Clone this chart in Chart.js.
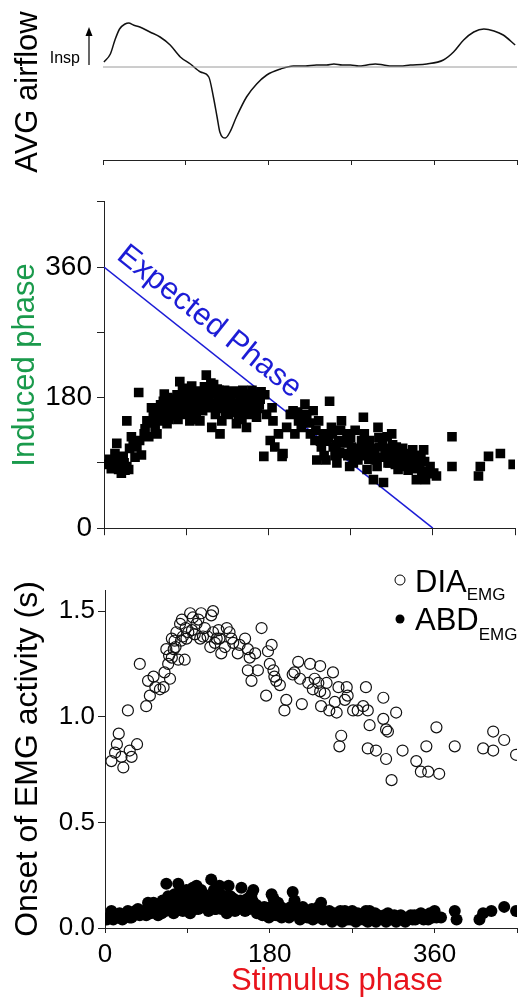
<!DOCTYPE html>
<html>
<head>
<meta charset="utf-8">
<title>Phase resetting</title>
<script src="https://cdn.jsdelivr.net/npm/chart.js@4.4.1/dist/chart.umd.min.js"></script>
<style>
  body { margin: 0; background: #fff; }
  canvas { position: absolute; left: 0; }
</style>
</head>
<body>
<canvas id="fluxo" width="528" height="180" style="top:0"></canvas>
<canvas id="fase" width="528" height="370" style="top:180px"></canvas>
<canvas id="emg" width="528" height="455" style="top:550px"></canvas>
<script>
// ========== DADOS ==========
// Fluxo aéreo médio (unidades arbitrárias) ao longo do ciclo
const fluxoX = [1, 8, 13, 18, 24, 28, 33, 40, 51, 62, 73, 84, 95, 106, 115, 120, 124, 127, 133, 138,
  145, 156, 167, 178, 193, 207, 220, 232, 243, 251, 260, 269, 278, 287, 296, 305, 314, 323, 334, 352,
  370, 381, 392, 403, 414, 425, 435, 448];
const fluxoY = [5, 13, 27, 38, 43, 44, 42, 40, 35, 30, 22, 10, 3, -5, -10, -30, -50, -65, -71, -65,
  -50, -30, -17, -8, -2, 1, 1, 2, 2, 3, 2, 2, 1, 2, 3, 2, 1, 1, 2, 3,
  7, 15, 27, 35, 38, 36, 32, 22];

// Fase do estímulo x fase induzida
const faseEstimulo = [5, 10, 14, 16, 19, 21, 25, 27, 12, 17,
  25, 30, 32, 36, 38, 41, 39, 45, 47, 49,
  52, 54, 56, 58, 60, 61, 65, 67, 69, 70,
  72, 76, 78, 80, 83, 85, 87, 91, 92, 94,
  96, 98, 101, 103, 105, 107, 112, 114, 116, 118,
  120, 122, 125, 127, 129, 131, 134, 136, 138, 142,
  145, 147, 149, 153, 156, 158, 160, 164, 167, 169,
  175, 176, 178, 182, 184, 185, 187, 191, 195, 196,
  200, 204, 207, 209, 213, 216, 220, 222, 226, 229,
  231, 233, 235, 238, 240, 243, 247, 249, 251, 255,
  257, 260, 262, 266, 269, 271, 275, 278, 282, 284,
  286, 288, 291, 295, 297, 300, 302, 306, 310, 311,
  315, 317, 320, 322, 326, 330, 331, 335, 338, 342,
  346, 350, 352, 357, 361, 364, 381, 381, 410, 412,
  421, 434, 448,
  62, 64, 68, 74, 79, 82, 86, 88, 93, 97,
  100, 102, 108, 110, 113, 117, 119, 121, 124, 128,
  132, 135, 139, 143, 146, 150, 152, 155, 162, 165,
  170, 172, 212, 218, 225, 232, 244, 253, 259, 268,
  274, 280, 290, 293, 299, 304, 308, 313, 318, 324,
  328, 333, 337, 340, 344, 348, 22, 6, 14, 28, 34,
  44, 50, 55, 59, 63, 66, 71, 73, 77, 81,
  84, 89, 90, 95, 99, 104, 106, 109, 111, 115,
  123, 126, 130, 133, 137, 140, 144, 148, 151, 154,
  157, 161, 163, 166, 168, 171, 8, 18, 23,
  237, 241, 246, 250, 254, 258, 263, 267, 270, 273,
  277, 281, 285, 289, 292, 296, 301, 305, 309, 314,
  316, 319, 323, 327, 332, 336, 339, 343, 347, 351, 355];
const faseInduzida = [88, 90, 117, 81, 76, 99, 85, 81, 103, 94,
  148, 126, 117, 112, 187, 101, 121, 137, 148, 126,
  166, 157, 139, 130, 162, 148, 175, 157, 144, 180,
  162, 171, 157, 184, 202, 180, 157, 193, 166, 148,
  196, 175, 157, 189, 148, 175, 211, 189, 166, 139,
  198, 157, 180, 130, 148, 166, 184, 157, 175, 189,
  144, 157, 180, 162, 139, 157, 184, 171, 153, 180,
  99, 184, 157, 121, 166, 148, 112, 130, 99, 103,
  139, 157, 162, 130, 148, 139, 171, 157, 130, 162,
  121, 94, 148, 112, 130, 94, 175, 139, 112, 90,
  121, 148, 103, 130, 85, 112, 135, 94, 121, 153,
  103, 81, 121, 67, 94, 139, 112, 63, 126, 90,
  130, 103, 112, 81, 99, 103, 85, 94, 108, 67,
  90, 108, 67, 85, 76, 72, 126, 85, 72, 85,
  99, 103, 88,
  170, 152, 168, 155, 175, 165, 190, 172, 182, 160,
  185, 170, 162, 195, 178, 200, 185, 172, 192, 178,
  190, 168, 180, 172, 185, 168, 190, 175, 190, 180,
  170, 188, 160, 150, 145, 135, 120, 100, 135, 118,
  100, 108, 95, 110, 85, 98, 100, 90, 95, 88,
  92, 80, 96, 82, 100, 78, 90, 95, 85, 110, 98,
  130, 145, 150, 165, 160, 185, 150, 178, 165, 150,
  172, 165, 180, 170, 150, 178, 165, 185, 170, 180,
  165, 190, 175, 160, 185, 165, 160, 170, 150, 185,
  175, 170, 160, 185, 165, 178, 82, 88, 80,
  120, 100, 125, 130, 115, 105, 118, 100, 125, 90,
  110, 100, 130, 115, 95, 105, 125, 115, 110, 100,
  115, 88, 105, 110, 100, 88, 95, 85, 100, 92, 75];

// Fase esperada (reta de 360 a 0)
const esperadaX = [0, 360];
const esperadaY = [360, 0];

// Início da atividade EMG (s) - diafragma
const diaX = [7, 11, 13, 15, 18, 20, 25, 27, 29, 35,
  38, 45, 47, 49, 53, 55, 60, 64, 65, 67,
  69, 71, 73, 73, 75, 76, 78, 80, 82, 84,
  85, 87, 89, 93, 95, 96, 100, 104, 105, 107,
  109, 115, 116, 118, 118, 122, 125, 127, 131, 133,
  136, 138, 147, 153, 156, 158, 156, 160, 164, 167,
  171, 176, 178, 180, 182, 184, 185, 187, 191, 196,
  198, 205, 207, 211, 213, 215, 222, 224, 227, 229,
  233, 235, 235, 236, 240, 242, 245, 249, 251, 253,
  255, 256, 258, 262, 264, 265, 271, 276, 282, 285,
  287, 289, 287, 296, 304, 304, 307, 309, 307, 313,
  318, 325, 340, 345, 353, 351, 362, 365, 382, 413,
  424, 424, 436, 449,
  70, 77, 83, 88, 91, 98, 102, 112, 120, 124, 140, 145];
const diaY = [0.79, 0.83, 0.87, 0.92, 0.81, 0.76, 1.03, 0.84, 0.81, 0.87,
  1.25, 1.05, 1.17, 1.10, 1.19, 1.14, 1.13, 1.14, 1.21, 1.32,
  1.25, 1.18, 1.28, 1.37, 1.32, 1.36, 1.40, 1.27, 1.44, 1.46,
  1.38, 1.27, 1.37, 1.49, 1.41, 1.47, 1.44, 1.37, 1.49, 1.38,
  1.42, 1.33, 1.48, 1.50, 1.40, 1.37, 1.37, 1.30, 1.33, 1.42,
  1.40, 1.37, 1.34, 1.37, 1.32, 1.28, 1.22, 1.17, 1.30, 1.22,
  1.42, 1.10, 1.31, 1.25, 1.34, 1.22, 1.19, 1.17, 1.15, 1.03,
  1.08, 1.20, 1.21, 1.26, 1.18, 1.06, 1.16, 1.25, 1.13, 1.18,
  1.16, 1.24, 1.12, 1.05, 1.11, 1.16, 1.03, 1.21, 1.07, 1.02,
  1.14, 0.86, 0.91, 1.08, 1.14, 1.10, 1.03, 1.03, 1.05, 1.14,
  1.03, 0.96, 0.85, 0.84, 0.99, 1.09, 0.94, 0.93, 0.80, 0.70,
  1.02, 0.84, 0.79, 0.74, 0.74, 0.86, 0.95, 0.73, 0.86, 0.85,
  0.84, 0.93, 0.89, 0.82,
  1.29, 1.33, 1.36, 1.42, 1.40, 1.39, 1.46, 1.38, 1.35, 1.41, 1.35, 1.30];

// Início da atividade EMG (s) - abdominal
const abdX = [4, 7, 11, 16, 22, 25, 29, 33, 36, 42,
  45, 47, 53, 56, 60, 64, 67, 69, 71, 73,
  76, 78, 80, 82, 84, 85, 89, 91, 95, 96,
  100, 102, 105, 107, 109, 113, 116, 118, 122, 125,
  127, 131, 135, 136, 140, 142, 149, 151, 156, 160,
  162, 165, 171, 176, 182, 184, 185, 189, 193, 198,
  204, 205, 207, 211, 215, 218, 224, 229, 233, 236,
  240, 245, 251, 255, 256, 262, 265, 271, 276, 282,
  285, 289, 293, 298, 304, 309, 315, 320, 325, 331,
  336, 342, 345, 351, 355, 360, 362, 367, 382, 384,
  409, 413, 422, 436, 449,
  2, 9, 14, 19, 27, 31, 38, 50, 58, 62,
  66, 75, 87, 93, 98, 104, 111, 120, 129, 133,
  138, 145, 153, 158, 167, 174, 179, 187, 196, 201,
  209, 213, 221, 227, 238, 243, 248, 253, 259, 268,
  274, 279, 287, 291, 296, 302, 307, 312, 318, 323,
  328, 334, 339, 348, 353, 358,
  54, 57, 63, 68, 72, 74, 79, 81, 83, 86,
  88, 90, 94, 97, 99, 103, 106, 108, 110, 112,
  115, 117, 119, 121, 124, 126, 128, 130, 134, 137,
  139, 143, 146, 148, 150, 154, 157, 161, 163, 166,
  168, 172, 175, 178, 181, 183, 190, 192, 195, 200,
  203, 208, 212, 216, 220, 226, 231, 234, 239, 247,
  250, 257, 261, 267, 270, 273, 278, 283, 288, 295,
  300, 305, 311, 316, 321, 327, 333, 338, 344, 350, 356, 361];
const abdY = [0.05, 0.08, 0.06, 0.07, 0.06, 0.08, 0.05, 0.08, 0.09, 0.08,
  0.06, 0.12, 0.12, 0.09, 0.08, 0.10, 0.21, 0.15, 0.12, 0.08,
  0.16, 0.13, 0.21, 0.10, 0.15, 0.08, 0.18, 0.12, 0.16, 0.19,
  0.20, 0.09, 0.18, 0.12, 0.14, 0.08, 0.23, 0.15, 0.12, 0.20,
  0.09, 0.15, 0.20, 0.12, 0.14, 0.08, 0.19, 0.12, 0.14, 0.16,
  0.18, 0.11, 0.08, 0.07, 0.16, 0.14, 0.08, 0.12, 0.05, 0.08,
  0.06, 0.17, 0.13, 0.07, 0.05, 0.08, 0.06, 0.08, 0.10, 0.12,
  0.06, 0.08, 0.07, 0.04, 0.06, 0.08, 0.04, 0.05, 0.07, 0.04,
  0.08, 0.08, 0.04, 0.06, 0.04, 0.07, 0.04, 0.05, 0.04, 0.04,
  0.04, 0.06, 0.07, 0.05, 0.07, 0.08, 0.05, 0.05, 0.08, 0.04,
  0.04, 0.07, 0.08, 0.10, 0.08,
  0.04, 0.04, 0.05, 0.04, 0.05, 0.06, 0.06, 0.07, 0.06, 0.07,
  0.08, 0.07, 0.09, 0.07, 0.12, 0.10, 0.11, 0.09, 0.11, 0.07,
  0.10, 0.10, 0.08, 0.09, 0.08, 0.10, 0.05, 0.06, 0.09, 0.05,
  0.09, 0.04, 0.05, 0.04, 0.04, 0.05, 0.03, 0.05, 0.03, 0.04,
  0.03, 0.05, 0.03, 0.06, 0.03, 0.05, 0.03, 0.05, 0.03, 0.06,
  0.03, 0.06, 0.04, 0.04, 0.04, 0.05,
  0.10, 0.11, 0.13, 0.11, 0.14, 0.10, 0.12, 0.17, 0.09, 0.13,
  0.15, 0.10, 0.13, 0.16, 0.09, 0.14, 0.10, 0.16, 0.13, 0.10,
  0.12, 0.10, 0.18, 0.09, 0.11, 0.16, 0.13, 0.10, 0.12, 0.15,
  0.09, 0.11, 0.09, 0.13, 0.10, 0.12, 0.10, 0.13, 0.09, 0.07,
  0.10, 0.06, 0.09, 0.06, 0.10, 0.06, 0.08, 0.10, 0.06, 0.07,
  0.10, 0.08, 0.06, 0.10, 0.07, 0.09, 0.05, 0.07, 0.08, 0.06,
  0.05, 0.08, 0.05, 0.06, 0.08, 0.06, 0.04, 0.06, 0.05, 0.07,
  0.05, 0.06, 0.04, 0.06, 0.04, 0.05, 0.05, 0.06, 0.05, 0.06, 0.05, 0.06];

// Rótulos dos eixos
const rotulosFase = [0, 180, 360];
const rotulosEstimulo = [0, 180, 360];
const rotulosOnset = [0, 0.5, 1, 1.5];

const pares = (xs, ys) => xs.map((x, i) => ({ x: x, y: ys[i] }));

Chart.defaults.font.family = '"Liberation Sans", Arial, sans-serif';
Chart.defaults.color = '#000';

const eixoCor = '#222';
const azul = '#1c1cd6';

// ========== FLUXO ==========
const setaInsp = {
  id: 'setaInsp',
  afterDraw(chart) {
    const { ctx, chartArea, scales: { y } } = chart;
    const xs = chartArea.left - 14;
    const yBase = y.getPixelForValue(0) - 2;
    const yTopo = y.getPixelForValue(40);
    ctx.save();
    ctx.strokeStyle = '#000';
    ctx.fillStyle = '#000';
    ctx.lineWidth = 1.2;
    ctx.beginPath();
    ctx.moveTo(xs, yBase);
    ctx.lineTo(xs, yTopo + 6);
    ctx.stroke();
    ctx.beginPath();
    ctx.moveTo(xs, yTopo);
    ctx.lineTo(xs - 3.5, yTopo + 9);
    ctx.lineTo(xs + 3.5, yTopo + 9);
    ctx.closePath();
    ctx.fill();
    ctx.font = '16px "Liberation Sans", Arial, sans-serif';
    ctx.textAlign = 'right';
    ctx.textBaseline = 'alphabetic';
    ctx.fillText('Insp', xs - 9, y.getPixelForValue(4));
    ctx.restore();
  }
};

new Chart(document.getElementById('fluxo'), {
  type: 'scatter',
  data: {
    datasets: [
      { data: pares([0, 450], [0, 0]), showLine: true, borderColor: '#9a9a9a', borderWidth: 1, pointRadius: 0 },
      { data: pares(fluxoX, fluxoY), showLine: true, borderColor: '#111', borderWidth: 1.5, pointRadius: 0, cubicInterpolationMode: 'monotone', clip: false }
    ]
  },
  options: {
    responsive: false,
    animation: false,
    layout: { padding: { top: 24, right: 11 } },
    plugins: { legend: { display: false }, tooltip: { enabled: false } },
    scales: {
      x: {
        min: 0, max: 450,
        ticks: { stepSize: 90, display: false },
        grid: { drawOnChartArea: false, tickLength: 5, color: eixoCor },
        border: { color: eixoCor },
        afterFit(s) { s.height = 20; }
      },
      y: {
        min: -93, max: 43,
        ticks: { display: false },
        grid: { display: false },
        border: { display: false },
        title: { display: true, text: 'AVG airflow', font: { size: 31 }, padding: { top: 10 } },
        afterFit(s) { s.width = 103; }
      }
    }
  },
  plugins: [setaInsp]
});

// ========== FASE INDUZIDA ==========
const textoEsperada = {
  id: 'textoEsperada',
  afterDraw(chart) {
    const { ctx, scales: { x, y } } = chart;
    const x0 = x.getPixelForValue(esperadaX[0]), y0 = y.getPixelForValue(esperadaY[0]);
    const x1 = x.getPixelForValue(esperadaX[1]), y1 = y.getPixelForValue(esperadaY[1]);
    const ang = Math.atan2(y1 - y0, x1 - x0);
    const t = 3 / 360;
    ctx.save();
    ctx.translate(x0 + (x1 - x0) * t, y0 + (y1 - y0) * t);
    ctx.rotate(ang);
    ctx.fillStyle = azul;
    ctx.font = '31px "Liberation Sans", Arial, sans-serif';
    ctx.textAlign = 'left';
    ctx.textBaseline = 'alphabetic';
    ctx.fillText('Expected Phase', 0, -14);
    ctx.restore();
  }
};

new Chart(document.getElementById('fase'), {
  type: 'scatter',
  data: {
    datasets: [
      { data: pares(faseEstimulo, faseInduzida), pointStyle: 'rect', pointRadius: 6.8, backgroundColor: '#000', borderWidth: 0, clip: 0 },
      { data: pares(esperadaX, esperadaY), showLine: true, borderColor: azul, borderWidth: 1.5, pointRadius: 0 }
    ]
  },
  options: {
    responsive: false,
    animation: false,
    layout: { padding: { top: 15, right: 13 } },
    plugins: { legend: { display: false }, tooltip: { enabled: false } },
    scales: {
      x: {
        min: 0, max: 450,
        ticks: { stepSize: 90, display: false },
        grid: { drawOnChartArea: false, tickLength: 7, color: eixoCor },
        border: { color: eixoCor },
        afterFit(s) { s.height = 20; }
      },
      y: {
        min: 0, max: 450,
        ticks: {
          stepSize: 90, padding: 5, font: { size: 28 },
          callback: v => rotulosFase.includes(v) ? String(v) : ''
        },
        grid: { drawOnChartArea: false, tickLength: 7, color: eixoCor },
        border: { color: eixoCor },
        title: { display: true, text: 'Induced phase', color: '#1a9a4c', font: { size: 31 }, padding: { top: 7 } },
        afterFit(s) { s.width = 104; }
      }
    }
  },
  plugins: [textoEsperada]
});

// ========== ONSET EMG ==========
const legendaEmg = {
  id: 'legendaEmg',
  afterDraw(chart) {
    const { ctx, chartArea: a } = chart;
    const itens = [
      { nome: 'DIA', cheio: false },
      { nome: 'ABD', cheio: true }
    ];
    ctx.save();
    itens.forEach((item, i) => {
      const cx = a.right - 117;
      const cy = a.top - 10 + i * 39;
      ctx.beginPath();
      ctx.arc(cx, cy, item.cheio ? 4.5 : 5, 0, 2 * Math.PI);
      ctx.lineWidth = 1;
      ctx.strokeStyle = '#000';
      ctx.fillStyle = '#000';
      item.cheio ? ctx.fill() : ctx.stroke();
      ctx.textAlign = 'left';
      ctx.textBaseline = 'alphabetic';
      ctx.font = '31px "Liberation Sans", Arial, sans-serif';
      ctx.fillText(item.nome, cx + 15, cy + 12 - i);
      const w = ctx.measureText(item.nome).width;
      ctx.font = '17px "Liberation Sans", Arial, sans-serif';
      ctx.fillText('EMG', cx + 15 + w, cy + 20 + i);
    });
    // titulo do eixo x
    ctx.fillStyle = '#e8141c';
    ctx.font = '31px "Liberation Sans", Arial, sans-serif';
    ctx.textAlign = 'center';
    ctx.fillText('Stimulus phase', 337, a.bottom + 62);
    ctx.restore();
  }
};

new Chart(document.getElementById('emg'), {
  type: 'scatter',
  data: {
    datasets: [
      { label: 'DIA', data: pares(diaX, diaY), pointRadius: 5.5, backgroundColor: 'rgba(0,0,0,0)', borderColor: '#111', borderWidth: 1.2, clip: 0 },
      { label: 'ABD', data: pares(abdX, abdY), pointRadius: 6, backgroundColor: '#000', borderColor: '#000', borderWidth: 0, clip: 0 }
    ]
  },
  options: {
    responsive: false,
    animation: false,
    layout: { padding: { top: 40, right: 11 } },
    plugins: { legend: { display: false }, tooltip: { enabled: false } },
    scales: {
      x: {
        min: 0, max: 450,
        ticks: {
          stepSize: 90, padding: 6, font: { size: 26 }, maxRotation: 0, autoSkip: false,
          callback: v => rotulosEstimulo.includes(v) ? String(v) : ''
        },
        grid: { drawOnChartArea: false, tickLength: 5, color: eixoCor },
        border: { color: eixoCor },
        afterFit(s) { s.height = 77; }
      },
      y: {
        min: 0, max: 1.6,
        ticks: {
          stepSize: 0.5, includeBounds: false, padding: 3, font: { size: 26 },
          callback: v => rotulosOnset.includes(v) ? v.toFixed(1) : ''
        },
        grid: { drawOnChartArea: false, tickLength: 7, color: eixoCor },
        border: { color: eixoCor },
        title: { display: true, text: 'Onset of EMG activity (s)', font: { size: 32 }, padding: { top: 9 } },
        afterFit(s) { s.width = 105; }
      }
    }
  },
  plugins: [legendaEmg]
});
</script>
</body>
</html>
